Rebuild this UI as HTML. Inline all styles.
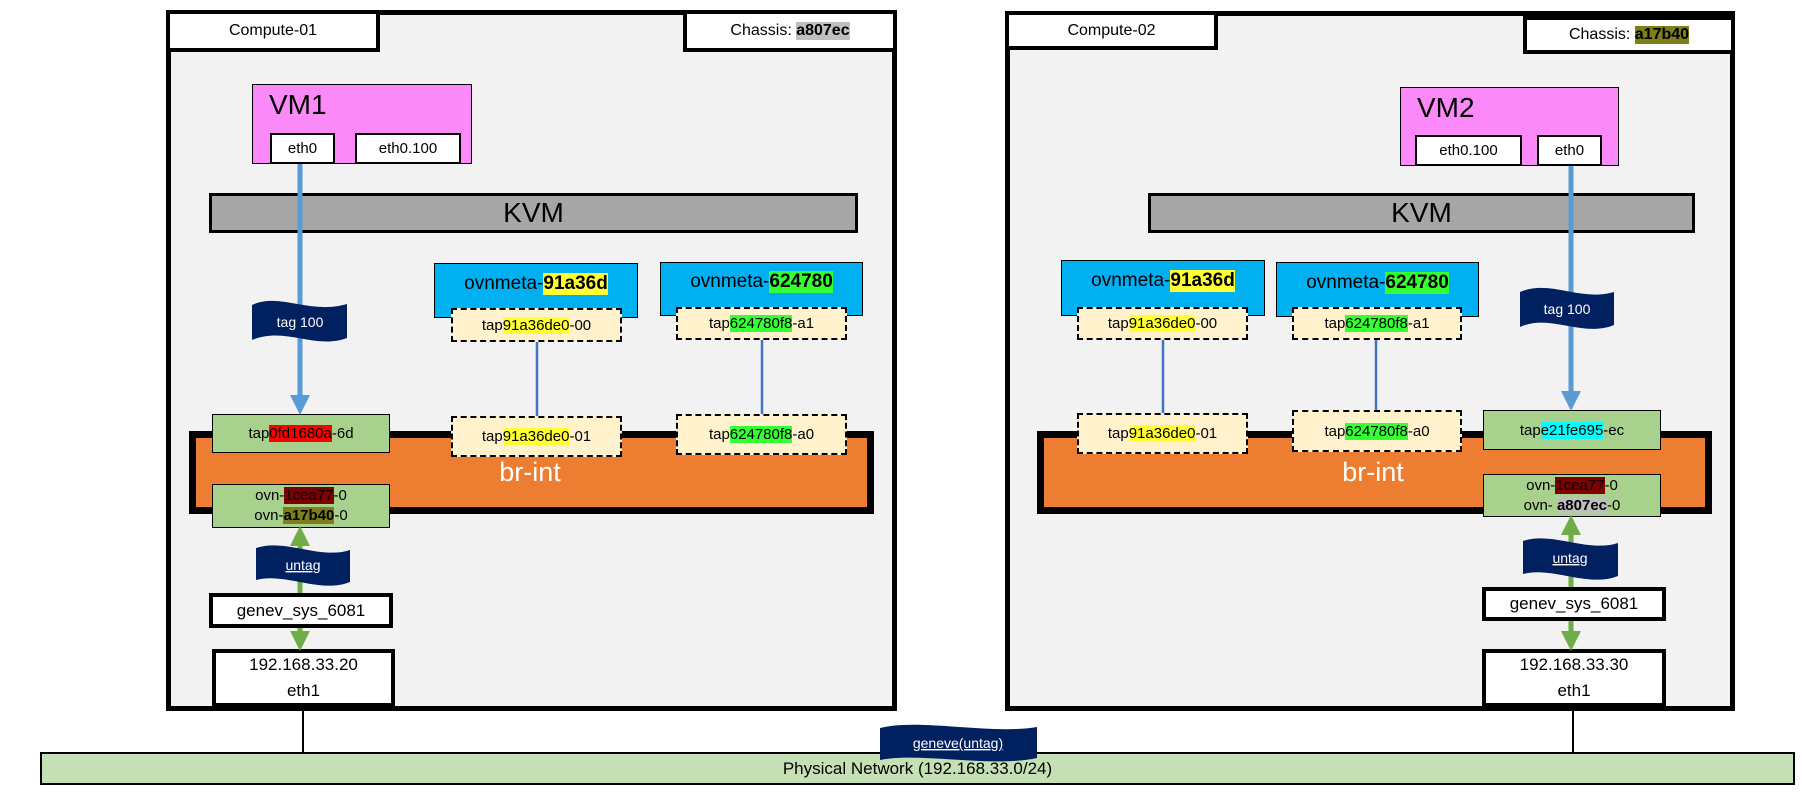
<!DOCTYPE html>
<html><head><meta charset="utf-8"><style>
*{box-sizing:border-box;margin:0;padding:0}
body{width:1802px;height:797px;background:#fff;position:relative;overflow:hidden;font-family:"Liberation Sans",sans-serif;color:#000}
.a{position:absolute}
.c{display:flex;align-items:center;justify-content:center;text-align:center}
.host{background:#f2f2f2;border:5px solid #000}
.lbl{background:#fff;border:4px solid #000;font-size:16px}
.vm{background:#fb8af8;border:1px solid #000;font-size:28px;padding:4px 0 0 16px}
.eth{background:#fff;border:2px solid #000;font-size:15px}
.kvm{background:#a6a6a6;border:3px solid #000;font-size:28px}
.meta{background:#00b0f0;border:1px solid #000;font-size:19px;padding-bottom:14px}
.tap{background:#fff2cc;border:2px dashed #000;font-size:15px}
.gtap{background:#a9d18e;border:1px solid #000;font-size:15px}
.br{background:#ed7d31;border:7px solid #000}
.box{background:#fff;border:4px solid #000;font-size:17px}
.y{background:#ffff33}.g{background:#33ff33}
</style></head><body>

<div class="a host" style="left:166px;top:10px;width:731px;height:701px"></div>
<div class="a lbl c" style="left:166px;top:10px;width:214px;height:42px">Compute-01</div>
<div class="a lbl c" style="left:683px;top:10px;width:214px;height:42px">Chassis:&nbsp;<b style="background:#bfbfbf">a807ec</b></div>
<div class="a vm" style="left:252px;top:84px;width:220px;height:80px">VM1</div>
<div class="a eth c" style="left:270px;top:133px;width:65px;height:31px">eth0</div>
<div class="a eth c" style="left:355px;top:133px;width:106px;height:31px">eth0.100</div>
<div class="a kvm c" style="left:209px;top:193px;width:649px;height:40px">KVM</div>
<div class="a meta c" style="left:434px;top:263px;width:204px;height:55px">ovnmeta-<b class="y">91a36d</b></div>
<div class="a meta c" style="left:660px;top:262px;width:203px;height:54px">ovnmeta-<b class="g">624780</b></div>
<div class="a tap c" style="left:451px;top:308px;width:171px;height:34px">tap<span class="y">91a36de0</span>-00</div>
<div class="a tap c" style="left:676px;top:307px;width:171px;height:33px">tap<span class="g">624780f8</span>-a1</div>
<div class="a br" style="left:189px;top:431px;width:685px;height:83px"></div>
<div class="a c" style="left:480px;top:455px;width:100px;height:34px;color:#fff;font-size:27px">br-int</div>
<div class="a gtap c" style="left:212px;top:414px;width:178px;height:39px">tap<span style="background:#ff0000">0fd1680a</span>-6d</div>
<div class="a tap c" style="left:451px;top:416px;width:171px;height:41px">tap<span class="y">91a36de0</span>-01</div>
<div class="a tap c" style="left:676px;top:414px;width:171px;height:41px">tap<span class="g">624780f8</span>-a0</div>
<div class="a gtap c" style="left:212px;top:484px;width:178px;height:44px;flex-direction:column;line-height:20px">
<div>ovn-<span style="background:#7f0000">1cea77</span>-0</div><div>ovn-<b style="background:#7f7f1a">a17b40</b>-0</div></div>
<div class="a box c" style="left:209px;top:593px;width:184px;height:35px">genev_sys_6081</div>
<div class="a box c" style="left:212px;top:649px;width:183px;height:58px;flex-direction:column;line-height:26px"><div>192.168.33.20</div><div>eth1</div></div>

<div class="a host" style="left:1005px;top:11px;width:730px;height:700px"></div>
<div class="a lbl c" style="left:1005px;top:11px;width:213px;height:39px">Compute-02</div>
<div class="a lbl c" style="left:1523px;top:16px;width:212px;height:38px">Chassis:&nbsp;<b style="background:#7f7f1a">a17b40</b></div>
<div class="a vm" style="left:1400px;top:87px;width:219px;height:79px">VM2</div>
<div class="a eth c" style="left:1415px;top:135px;width:107px;height:31px">eth0.100</div>
<div class="a eth c" style="left:1537px;top:135px;width:65px;height:31px">eth0</div>
<div class="a kvm c" style="left:1148px;top:193px;width:547px;height:40px">KVM</div>
<div class="a meta c" style="left:1061px;top:260px;width:204px;height:56px">ovnmeta-<b class="y">91a36d</b></div>
<div class="a meta c" style="left:1276px;top:262px;width:203px;height:55px">ovnmeta-<b class="g">624780</b></div>
<div class="a tap c" style="left:1077px;top:307px;width:171px;height:33px">tap<span class="y">91a36de0</span>-00</div>
<div class="a tap c" style="left:1292px;top:307px;width:170px;height:33px">tap<span class="g">624780f8</span>-a1</div>
<div class="a br" style="left:1037px;top:431px;width:675px;height:83px"></div>
<div class="a c" style="left:1323px;top:455px;width:100px;height:34px;color:#fff;font-size:27px">br-int</div>
<div class="a tap c" style="left:1077px;top:413px;width:171px;height:41px">tap<span class="y">91a36de0</span>-01</div>
<div class="a tap c" style="left:1292px;top:410px;width:170px;height:42px">tap<span class="g">624780f8</span>-a0</div>
<div class="a gtap c" style="left:1483px;top:410px;width:178px;height:40px">tap<span style="background:#00ffff">e21fe695</span>-ec</div>
<div class="a gtap c" style="left:1483px;top:474px;width:178px;height:43px;flex-direction:column;line-height:20px">
<div>ovn-<span style="background:#7f0000">1cea77</span>-0</div><div>ovn- <b style="background:#bfbfbf">a807ec</b>-0</div></div>
<div class="a box c" style="left:1482px;top:587px;width:184px;height:34px">genev_sys_6081</div>
<div class="a box c" style="left:1482px;top:649px;width:184px;height:58px;flex-direction:column;line-height:26px"><div>192.168.33.30</div><div>eth1</div></div>

<div class="a c" style="left:40px;top:752px;width:1755px;height:33px;background:#c5e0b4;border:2px solid #000;font-size:17px">Physical Network (192.168.33.0/24)</div>

<svg class="a" style="left:0;top:0" width="1802" height="797">
<defs>
<marker id="bl" markerWidth="4" markerHeight="4" refX="2" refY="2" orient="auto" markerUnits="strokeWidth"><path d="M0,0L4,2L0,4z" fill="#5b9bd5"/></marker>
<marker id="gr" markerWidth="4" markerHeight="4" refX="2" refY="2" orient="auto-start-reverse" markerUnits="strokeWidth"><path d="M0,0L4,2L0,4z" fill="#70ad47"/></marker>
</defs>
<g stroke-width="5" fill="none">
<line x1="300" y1="164" x2="300" y2="405" stroke="#5b9bd5" marker-end="url(#bl)"/>
<line x1="1571" y1="166" x2="1571" y2="401" stroke="#5b9bd5" marker-end="url(#bl)"/>
<line x1="300" y1="536" x2="300" y2="593" stroke="#70ad47" marker-start="url(#gr)"/>
<line x1="300" y1="628" x2="300" y2="641" stroke="#70ad47" marker-end="url(#gr)"/>
<line x1="1571" y1="525" x2="1571" y2="587" stroke="#70ad47" marker-start="url(#gr)"/>
<line x1="1571" y1="621" x2="1571" y2="641" stroke="#70ad47" marker-end="url(#gr)"/>
</g>
<g stroke="#4472c4" stroke-width="2.5">
<line x1="537" y1="342" x2="537" y2="416"/><line x1="762" y1="340" x2="762" y2="414"/>
<line x1="1163" y1="340" x2="1163" y2="413"/><line x1="1376" y1="340" x2="1376" y2="410"/>
</g>
<g stroke="#000" stroke-width="2"><line x1="303" y1="711" x2="303" y2="752"/><line x1="1573" y1="711" x2="1573" y2="752"/></g>
<g fill="#002060">
<path d="M252,305 C280,292 310,315 347,304 L347,338 C315,350 285,326 252,340Z"/>
<path d="M1520,292 C1550,279 1580,302 1614,292 L1614,325 C1582,338 1550,313 1520,327Z"/>
<path d="M256,548 C285,538 320,560 350,550 L350,582 C320,594 285,572 256,580Z"/>
<path d="M1523,541 C1552,531 1588,553 1618,543 L1618,576 C1588,588 1552,566 1523,574Z"/>
<path d="M880,728 C920,718 990,735 1037,727 L1037,758 C990,768 920,752 880,760Z"/>
</g>
<g fill="#fff" font-family="Liberation Sans,sans-serif" font-size="14" text-anchor="middle">
<text x="300" y="327">tag 100</text><text x="1567" y="314">tag 100</text>
<text x="303" y="570" text-decoration="underline">untag</text><text x="1570" y="563" text-decoration="underline">untag</text>
<text x="958" y="748" text-decoration="underline">geneve(untag)</text>
</g>
</svg>
</body></html>
